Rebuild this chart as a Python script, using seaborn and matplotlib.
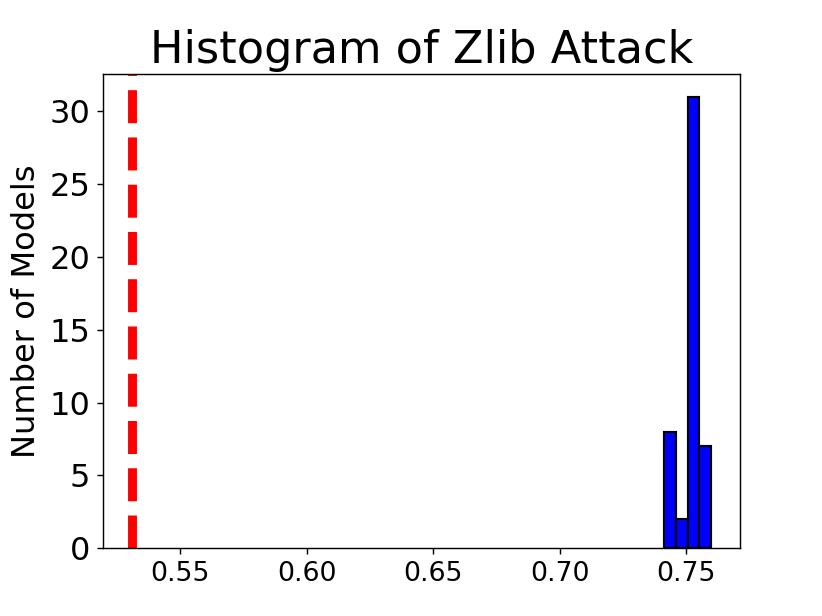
import numpy as np
import pandas as pd
import matplotlib
matplotlib.use("Agg")
import matplotlib.pyplot as plt
import seaborn as sns

# Zlib attack scores, binned
bin_edges = [0.7414, 0.7460, 0.7506, 0.7552, 0.7598]
bin_centers = [0.7437, 0.7483, 0.7529, 0.7575]
model_counts = [8, 2, 31, 7]
threshold = 0.5309

df = pd.DataFrame({"score": bin_centers, "count": model_counts})

dpi = 128.4
fig = plt.figure(figsize=(822 / dpi, 616 / dpi), dpi=dpi)
ax = fig.add_subplot(111)

sns.histplot(data=df, x="score", weights="count", bins=bin_edges,
             color="blue", edgecolor="black", linewidth=1.2, alpha=1.0, ax=ax)
ax.axvline(threshold, color="red", linestyle="--", linewidth=5)

ax.set_title("Histogram of Zlib Attack", fontsize=25)
ax.set_ylabel("Number of Models", fontsize=18)
ax.set_xlabel("")
ax.tick_params(axis="x", labelsize=15)
ax.tick_params(axis="y", labelsize=18)

fig.savefig("out.png", dpi=dpi)
